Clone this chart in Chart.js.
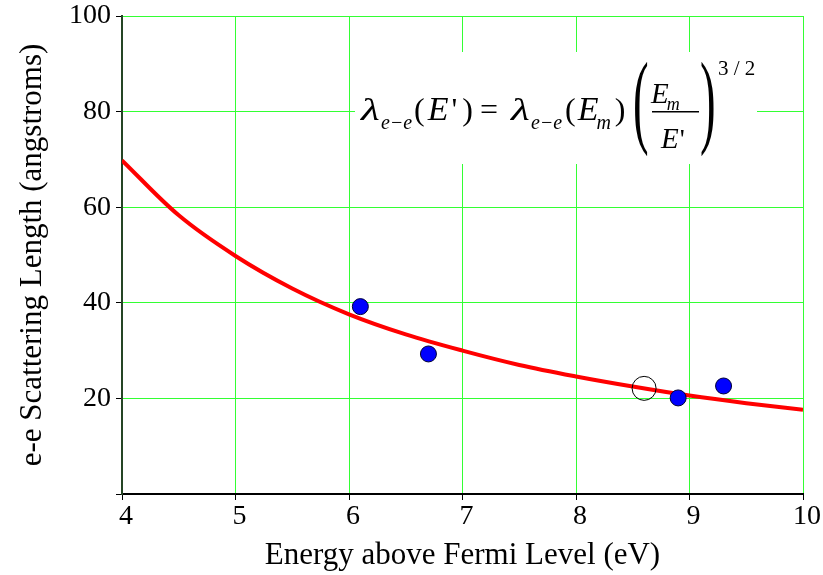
<!DOCTYPE html>
<html>
<head>
<meta charset="utf-8">
<script src="https://cdn.jsdelivr.net/npm/chart.js@4"></script>
<style>
  body { margin: 0; background: #fff; }
  #wrap { width: 823px; height: 575px; }
</style>
</head>
<body>
<div id="wrap"><canvas id="scatterChart"></canvas></div>
<script>
// curve (eV, angstroms)
var curveEnergy = [4, 4.5, 5, 5.5, 6, 6.5, 7, 7.5, 8, 8.5, 9, 9.5, 10];
var curveLength = [69.8, 58.3, 49.8, 43.0, 37.6, 33.4, 30.0, 27.0, 24.6, 22.5, 20.6, 19.0, 17.6];

// measured points
var measuredEnergy = [6.1, 6.7, 8.9, 9.3];
var measuredLength = [39.2, 29.3, 20.1, 22.6];

// reference point (E_m)
var refEnergy = [8.6];
var refLength = [22.1];

var xTicks = [4, 5, 6, 7, 8, 9, 10];
var yTicks = [0, 20, 40, 60, 80, 100];

function toPoints(xs, ys) {
    return xs.map((x, i) => ({ x: x, y: ys[i] }));
}

var serif = 'Liberation Serif';

var formulaPlugin = {
    id: 'formula',
    beforeDatasetsDraw: function (chart) {
        var ctx = chart.ctx;
        ctx.save();
        ctx.fillStyle = '#fff';
        ctx.fillRect(355, 52, 402, 112);
        ctx.restore();
    },
    afterDraw: function (chart) {
        var ctx = chart.ctx;
        var it = s => 'italic ' + s + 'px "' + serif + '"';
        var rm = s => s + 'px "' + serif + '"';
        function put(t, f, x, y) { ctx.font = f; ctx.fillText(t, x, y); }
        // draw runs one after another: [text, font, dy, extra gap]
        function run(x, y, parts) {
            parts.forEach(function (p) {
                ctx.font = p[1];
                ctx.fillText(p[0], x, y + (p[2] || 0));
                x += ctx.measureText(p[0]).width + (p[3] || 0);
            });
        }
        function lambda(x) {
            ctx.save();
            ctx.translate(x, 120);
            ctx.scale(1.35, 1);
            ctx.font = it(32);
            ctx.fillText('\u03bb', 0, 0);
            ctx.restore();
        }
        function bigParen(t, x) {
            ctx.save();
            ctx.translate(x, 134);
            ctx.scale(0.45, 1);
            ctx.font = rm(104);
            ctx.fillText(t, 0, 0);
            ctx.restore();
        }
        ctx.save();
        ctx.fillStyle = '#000';
        ctx.textBaseline = 'alphabetic';
        ctx.textAlign = 'left';
        lambda(361);
        run(381, 120, [['e\u2212e', it(20), 9]]);
        run(414, 120, [['(', rm(32), 0, 3], ['E', it(34), 0, 3], ["'", rm(32), 0, 5], [')', rm(32)]]);
        put('=', rm(32), 480, 120);
        lambda(511);
        run(531, 120, [['e\u2212e', it(20), 9]]);
        run(565, 120, [['(', rm(32), 0, 2], ['E', it(34), 0, -2], ['m', it(20), 9, 4], [')', rm(32)]]);
        bigParen('(', 633);
        run(651, 103, [['E', it(29), 0, -2], ['m', it(18), 7]]);
        ctx.fillRect(652, 111, 47, 1.5);
        run(661, 148, [['E', it(29), 0, 1], ["'", rm(28)]]);
        bigParen(')', 700);
        put('3 / 2', rm(21), 718, 75);
        ctx.restore();
    }
};

var ctxScatter = document.getElementById('scatterChart').getContext('2d');
var scatterChart = new Chart(ctxScatter, {
    type: 'scatter',
    data: {
        datasets: [{
            data: toPoints(measuredEnergy, measuredLength),
            backgroundColor: '#0000ff',
            borderColor: '#000033',
            borderWidth: 1,
            pointRadius: 8
        }, {
            data: toPoints(refEnergy, refLength),
            backgroundColor: 'rgba(0,0,0,0)',
            borderColor: '#000',
            borderWidth: 1,
            pointRadius: 12
        }, {
            data: toPoints(curveEnergy, curveLength),
            showLine: true,
            borderColor: '#ff0000',
            borderWidth: 4,
            pointRadius: 0,
            tension: 0.35
        }]
    },
    options: {
        responsive: true,
        maintainAspectRatio: false,
        animation: false,
        layout: { padding: { top: 16, right: 20, left: 0, bottom: 0 } },
        plugins: {
            legend: { display: false },
            tooltip: { enabled: false }
        },
        scales: {
            x: {
                type: 'linear',
                position: 'bottom',
                min: 4,
                max: 10,
                afterBuildTicks: function (scale) {
                    scale.ticks = xTicks.map(v => ({ value: v }));
                },
                afterFit: function (scale) {
                    scale.height = 81;
                    scale.paddingLeft = 0;
                    scale.paddingRight = 0;
                },
                ticks: {
                    color: '#000',
                    font: { family: serif, size: 28 },
                    padding: 0,
                    labelOffset: 4
                },
                grid: { color: '#33ff33', lineWidth: 1, tickColor: '#000', tickLength: 6 },
                border: { color: '#000', width: 2 },
                title: {
                    display: true,
                    text: 'Energy above Fermi Level (eV)',
                    color: '#000',
                    font: { family: serif, size: 31 },
                    padding: { top: 0, bottom: 1 }
                }
            },
            y: {
                type: 'linear',
                min: 0,
                max: 100,
                afterBuildTicks: function (scale) {
                    scale.ticks = yTicks.map(v => ({ value: v }));
                },
                afterFit: function (scale) {
                    scale.width = 122;
                    scale.paddingTop = 0;
                    scale.paddingBottom = 0;
                },
                ticks: {
                    color: '#000',
                    font: { family: serif, size: 28 },
                    padding: 5,
                    callback: function (value) { return value === 0 ? '' : value; }
                },
                grid: { color: '#33ff33', lineWidth: 1, tickColor: '#000', tickLength: 6 },
                border: { color: '#254525', width: 2 },
                title: {
                    display: true,
                    text: 'e-e Scattering Length (angstroms)',
                    color: '#000',
                    font: { family: serif, size: 31 },
                    padding: { top: 14, bottom: 0 }
                }
            }
        }
    },
    plugins: [formulaPlugin]
});
</script>
</body>
</html>
